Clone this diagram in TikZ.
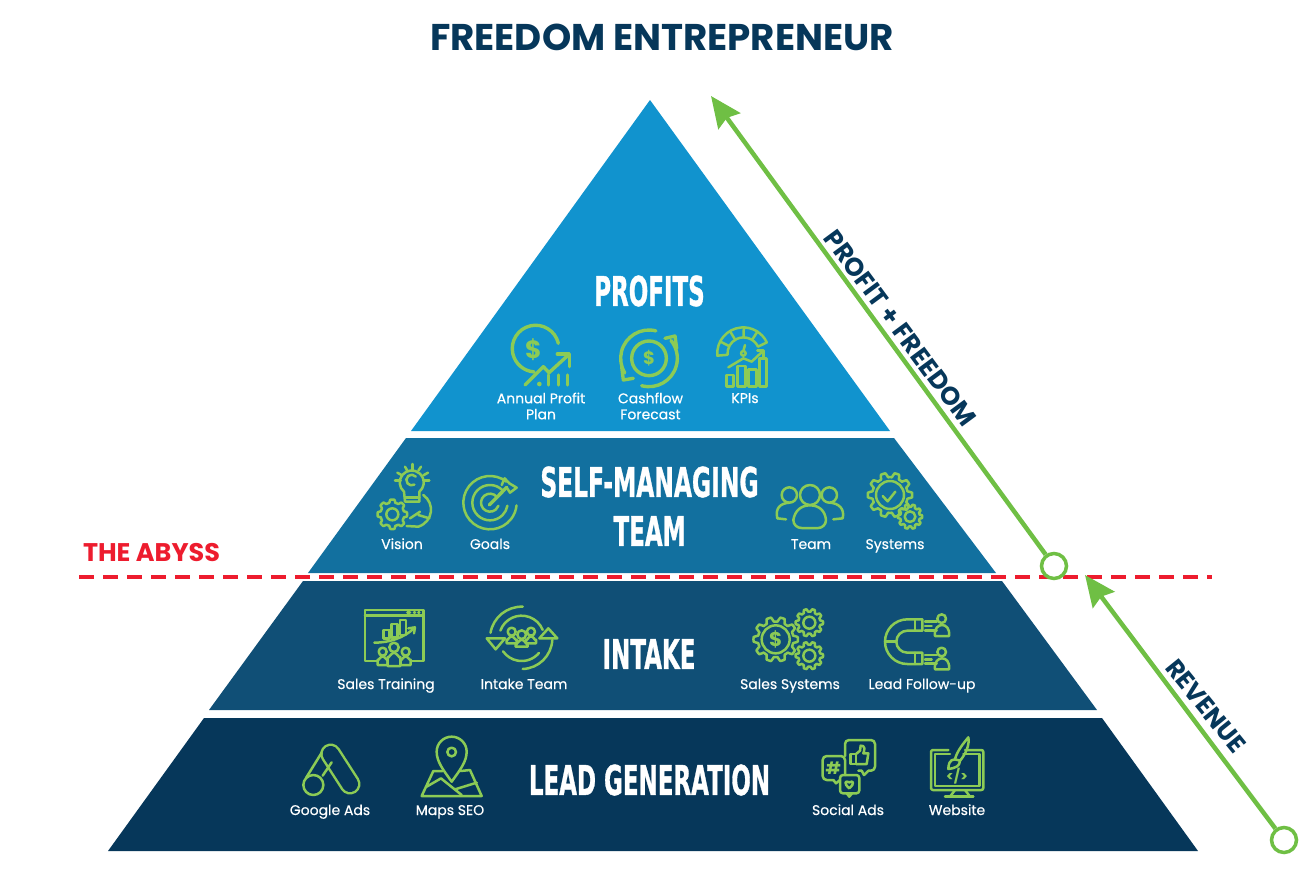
\documentclass[tikz,border=0pt]{standalone}
\usepackage{fontspec}
\usepackage{graphicx}
\setmainfont{Poppins}
\newfontfamily\tierfont[BoldFeatures={FakeBold=1.2}]{DejaVu Sans}
\newfontfamily\captionfont[FakeBold=0.4]{Poppins}
\usetikzlibrary{arrows.meta}

\definecolor{tierone}{HTML}{1193CE}
\definecolor{tiertwo}{HTML}{12709F}
\definecolor{tierthree}{HTML}{104F76}
\definecolor{tierfour}{HTML}{06375A}
\definecolor{icongreen}{HTML}{8CCB55}
\definecolor{arrowgreen}{HTML}{6FBF44}
\definecolor{abyssred}{HTML}{ED1C2E}

\tikzset{
    icon/.style={draw=icongreen, line width=2.5pt, line cap=round, line join=round},
    iconbold/.style={icon, line width=3.4pt},
    iconfill/.style={fill=icongreen, draw=none},
    icontext/.style={text=icongreen, inner sep=0pt, font=\bfseries\fontsize{#1}{#1}\selectfont},
    caption/.style={text=white, align=center, inner sep=0pt, font=\captionfont\fontsize{14}{16}\selectfont},
    tiertitle/.style={text=white, align=center, inner sep=0pt, font=\tierfont\bfseries\fontsize{41}{48}\selectfont},
    headline/.style={text=tierfour, inner sep=0pt, font=\bfseries\fontsize{#1}{#1}\selectfont},
    growth/.style={draw=arrowgreen, line width=4.5pt, -{Stealth[length=31pt,width=27pt,inset=4pt]}},
    ring/.style={draw=arrowgreen, fill=white, circle, line width=3.5pt, minimum size=25pt, inner sep=0pt},
}

% gear: centre x, centre y, radius, teeth
\newcommand{\gearshape}[4]{
    \draw[icon] plot[domain=0:360, samples=121] ({#1+(#3+0.11*#3*max(-1,min(1,2.5*cos(#4*\x))))*cos(\x)},{#2+(#3+0.11*#3*max(-1,min(1,2.5*cos(#4*\x))))*sin(\x)}) -- cycle;
}
% person: head x, head y, head radius, body half width, body bottom
\newcommand{\personshape}[5]{
    \draw[icon] (#1,#2) circle[radius=#3];
    \draw[icon] (#1-#4,#5) -- (#1-#4,#2+#3+#4*0.8) to[out=-90,in=180] (#1,#2+#3+2) to[out=0,in=-90] (#1+#4,#2+#3+#4*0.8) -- (#1+#4,#5) -- cycle;
}
% open ring: centre x, centre y, radius, start angle, end angle
\newcommand{\ringarc}[6][icon]{
    \draw[#1] ({#2+#4*cos(#5)},{#3+#4*sin(#5)}) arc[start angle=#5, end angle=#6, radius=#4];
}

\begin{document}
\begin{tikzpicture}[x=1pt, y=-1pt]
    \useasboundingbox (0,0) rectangle (1305,894);

    % pyramid
    \fill[tierone] (650,100) -- (890,431) -- (411,431) -- cycle;
    \fill[tiertwo] (406,438) -- (894,438) -- (996,573) -- (308,573) -- cycle;
    \fill[tierthree] (303,581) -- (1002,581) -- (1097,710) -- (209,710) -- cycle;
    \fill[tierfour] (204,718) -- (1102,718) -- (1198,851) -- (108,851) -- cycle;

    % titles
    \node[headline=37.2] (title) at (662,37.5) {FREEDOM ENTREPRENEUR};
    \node[tiertitle] (profits) at (649.5,291) {\scalebox{0.56}[1]{PROFITS}};
    \node[tiertitle] (selfmanaging) at (649.5,482) {\scalebox{0.57}[1]{SELF-MANAGING}};
    \node[tiertitle] (teamtitle) at (649.5,531) {\scalebox{0.56}[1]{TEAM}};
    \node[tiertitle] (intake) at (649,654) {\scalebox{0.56}[1]{INTAKE}};
    \node[tiertitle] (leadgen) at (649.5,780) {\scalebox{0.56}[1]{LEAD GENERATION}};

    % captions
    \node[caption] (annual) at (541,406) {Annual Profit\\Plan};
    \node[caption] (cashflow) at (650.5,406) {Cashflow\\Forecast};
    \node[caption, anchor=base] (kpis) at (745,403) {KPIs};
    \node[caption, anchor=base] (vision) at (402,549) {Vision};
    \node[caption, anchor=base] (goals) at (490,549) {Goals};
    \node[caption, anchor=base] (team) at (811,549) {Team};
    \node[caption, anchor=base] (systems) at (895,549) {Systems};
    \node[caption, anchor=base] (salestraining) at (386,689) {Sales Training};
    \node[caption, anchor=base] (intaketeam) at (524,689) {Intake Team};
    \node[caption, anchor=base] (salessystems) at (790,689) {Sales Systems};
    \node[caption, anchor=base] (followup) at (922,689) {Lead Follow-up};
    \node[caption, anchor=base] (googleads) at (330,815) {Google Ads};
    \node[caption, anchor=base] (mapsseo) at (450,815) {Maps SEO};
    \node[caption, anchor=base] (socialads) at (848,815) {Social Ads};
    \node[caption, anchor=base] (website) at (957,815) {Website};

    % abyss line and growth arrows
    \node[text=abyssred, inner sep=0pt, font=\bfseries\fontsize{25.5}{26}\selectfont] (abyss) at (151.5,553) {THE ABYSS};
    \draw[abyssred, line width=4pt, dash pattern=on 15pt off 9pt] (79,577) -- (1212,577);

    \coordinate (profittip) at (711,96);
    \coordinate (revenuetip) at (1085,575);
    \node[ring] (profitstart) at (1054,566) {};
    \node[ring] (revenuestart) at (1284,840) {};
    \draw[growth] (profitstart) -- (profittip);
    \draw[growth] (revenuestart) -- (revenuetip);
    \node[headline=25.5, rotate=-53.5] (profitlabel) at (900,328) {PROFIT + FREEDOM};
    \node[headline=25, rotate=-51] (revenuelabel) at (1206,706) {REVENUE};

    % annual profit, cashflow, kpis
    \begin{scope}[shift={(480,310)}, scale=1/3]
        \draw[iconbold] (235,100) arc[start angle=-13, end angle=-266, radius=70];
        \node[icontext=25] (dollarannual) at (160,118) {\$};
        \draw[iconbold] (135,225) -- (190,170) -- (207,188) -- (265,135);
        \draw[iconbold] (232,132) -- (268,132) -- (268,170);
        \fill[iconfill] (178,222) circle[radius=7];
        \foreach \x in {205,235,262}
            \draw[iconbold] (\x,195) -- (\x,225);

        \draw[iconbold] (507,145) circle[radius=52];
        \node[icontext=18] (dollarcash) at (507,145) {\$};
        \ringarc[iconbold]{507}{145}{85}{-76}{-211}
        \draw[iconbold] (425,170) -- (430,210) -- (460,205);
        \ringarc[iconbold]{507}{145}{85}{105}{-39}
        \draw[iconbold] (555,85) -- (585,78) -- (590,115);

        \draw[icon] (712,137) arc[start angle=175, end angle=335, radius=78] -- (834,110) arc[start angle=335, end angle=175, radius=48] -- cycle;
        \foreach \a in {207,239,271,303}
            \draw[icon] ({790+48*cos(\a)},{130+48*sin(\a)}) -- ({790+78*cos(\a)},{130+78*sin(\a)});
        \draw[icon] (790,130) circle[radius=7];
        \draw[icon] (790,123) -- (795,105);
        \draw[icon] (745,172) -- (790,145) -- (815,155) -- (850,122);
        \draw[icon] (832,122) -- (850,122) -- (850,140);
        \draw[icon] (740,195) rectangle (760,230);
        \draw[icon] (772,168) rectangle (796,230);
        \draw[icon] (806,178) rectangle (830,230);
        \draw[icon] (838,146) rectangle (860,230);
    \end{scope}

    % vision, goals
    \begin{scope}[shift={(360,450)}, scale=1/3]
        \draw[icon] (132,125) arc[start angle=130, end angle=410, radius=36] -- (178,155) -- (135,155) -- cycle;
        \draw[icon] (135,142) -- (178,142);
        \ringarc{155}{90}{16}{-40}{-300}
        \draw[icon] (157,42) -- (157,60);
        \draw[icon] (135,50) -- (142,62);
        \draw[icon] (183,50) -- (175,62);
        \draw[icon] (112,68) -- (126,76);
        \draw[icon] (204,68) -- (190,76);
        \draw[icon] (105,92) -- (122,92);
        \draw[icon] (208,92) -- (192,92);
        \draw[icon] (190,135) .. controls (225,160) and (220,215) .. (175,230) -- (140,228);
        \draw[icon] (150,205) -- (180,185);
        \draw[icon] (175,195) -- (208,205);
        \gearshape{97}{193}{40}{8}
        \draw[icon] (97,193) circle[radius=18];

        \ringarc{390}{158}{80}{-52}{-354}
        \ringarc{390}{158}{53}{-45}{-350}
        \ringarc{390}{158}{27}{-40}{-340}
        \draw[iconbold] (388,165) -- (440,112);
        \draw[icon] (425,105) -- (434,85) -- (448,100) -- (470,113) -- (450,128) -- (440,112);
    \end{scope}

    % team, systems
    \begin{scope}[shift={(760,460)}, scale=1/3]
        \draw[icon] (150,105) circle[radius=30];
        \draw[icon] (88,105) circle[radius=23];
        \draw[icon] (208,105) circle[radius=23];
        \draw[icon] (100,180) .. controls (105,150) and (125,136) .. (150,136) .. controls (175,136) and (195,150) .. (198,180) .. controls (198,195) and (185,204) .. (175,204) -- (125,204) .. controls (112,204) and (100,195) .. (100,180) -- cycle;
        \draw[icon] (52,175) .. controls (45,145) and (60,130) .. (88,128);
        \draw[icon] (210,128) .. controls (235,130) and (255,145) .. (248,175) -- (220,178);
        \draw[icon] (52,175) -- (78,178);

        \gearshape{390}{105}{60}{10}
        \draw[icon] (390,105) circle[radius=42];
        \draw[icon] (368,108) -- (383,124) -- (406,95);
        \gearshape{450}{170}{33}{10}
        \draw[icon] (450,170) circle[radius=16];
    \end{scope}

    % sales training, intake team
    \begin{scope}[shift={(330,600)}, scale=1/3]
        \draw[icon] (140,183) -- (105,183) -- (105,30) -- (280,30) -- (280,183) -- (245,183);
        \draw[icon] (105,47) -- (280,47);
        \draw[icon] (232,38) -- (240,38);
        \draw[icon] (252,38) -- (255,38);
        \draw[icon] (265,38) -- (268,38);
        \draw[icon] (160,90) rectangle (178,115);
        \draw[icon] (185,72) rectangle (203,112);
        \draw[icon] (210,60) rectangle (228,105);
        \draw[icon] (133,128) .. controls (175,128) and (220,115) .. (252,85);
        \draw[icon] (235,85) -- (255,82) -- (252,100);
        \personshape{158}{155}{12}{15}{195}
        \personshape{227}{155}{12}{15}{195}
        \personshape{192}{142}{14}{19}{198}

        \ringarc{575}{115}{95}{-88}{-170}
        \draw[icon] (470,115) -- (525,115) -- (497,148) -- cycle;
        \ringarc{575}{115}{68}{-160}{-22}
        \draw[icon] (628,115) -- (682,115) -- (655,85) -- cycle;
        \ringarc{575}{115}{92}{3}{88}
        \ringarc{575}{115}{68}{40}{145}
        \personshape{545}{95}{12}{15}{130}
        \personshape{603}{95}{12}{15}{130}
        \personshape{575}{104}{13}{18}{140}
    \end{scope}

    % sales systems, lead follow-up
    \begin{scope}[shift={(730,600)}, scale=1/3]
        \gearshape{137}{118}{60}{10}
        \draw[icon] (137,118) circle[radius=42];
        \node[icontext=20] (dollarsales) at (137,118) {\$};
        \gearshape{238}{68}{37}{10}
        \draw[icon] (238,68) circle[radius=18];
        \gearshape{238}{167}{37}{10}
        \draw[icon] (238,167) circle[radius=18];

        \draw[icon] (577,58) -- (532,58) arc[start angle=-90, end angle=-270, radius=67] -- (577,192) -- (577,158) -- (532,158) arc[start angle=90, end angle=270, radius=33] -- (577,92) -- cycle;
        \draw[icon] (555,58) -- (555,92);
        \draw[icon] (555,158) -- (555,192);
        \draw[icon] (465,125) -- (499,125);
        \foreach \y in {0,100}
        {
            \draw[icon] (585,{65+\y}) -- (620,{65+\y});
            \draw[icon] (585,{78+\y}) -- (605,{78+\y});
            \draw[icon] (585,{91+\y}) -- (620,{91+\y});
            \draw[icon] (635,{56+\y}) circle[radius=13];
            \draw[icon] (615,{108+\y}) .. controls (612,{85+\y}) and (625,{75+\y}) .. (636,{75+\y}) .. controls (648,{75+\y}) and (660,{85+\y}) .. (657,{108+\y}) -- cycle;
        }
    \end{scope}

    % google ads, maps seo
    \begin{scope}[shift={(280,730)}, scale=1/3]
        \draw[icongreen, line width=21pt, line cap=round] (152,72) -- (210,162);
        \draw[tierfour, line width=16pt, line cap=round] (152,72) -- (210,162);
        \draw[icon] (100,165) circle[radius=30];
        \draw[icon] (78,144) -- (125,68);
        \draw[icon] (128,137) -- (155,97);

        \draw[icon] (515,155) .. controls (490,120) and (470,95) .. (470,65) arc[start angle=180, end angle=360, radius=45] .. controls (560,95) and (540,120) .. (515,155) -- cycle;
        \draw[icon] (515,66) circle[radius=13];
        \draw[icon] (488,123) -- (460,123) -- (425,198) -- (605,198) -- (570,120) -- (542,123);
        \draw[icon] (440,170) -- (483,145) -- (545,195);
        \draw[icon] (525,178) -- (590,158);
    \end{scope}

    % social ads, website
    \begin{scope}[shift={(800,730)}, scale=1/3]
        \draw[icon, rounded corners=4pt] (135,78) -- (135,30) -- (225,30) -- (225,122) -- (205,122);
        \draw[icon] (205,122) -- (192,135) -- (185,122) -- (175,122);
        \draw[icon] (152,72) rectangle (168,102);
        \draw[icon] (168,72) -- (180,62) -- (182,47) .. controls (195,45) and (195,60) .. (190,70) -- (205,70) -- (200,102) -- (168,102);
        \draw[icon, rounded corners=4pt] (100,150) -- (68,150) -- (68,78) -- (135,78) -- (135,135);
        \draw[icon] (100,150) -- (108,160) -- (120,150);
        \node[icontext=17] (hashtag) at (100,115) {\#};
        \draw[icon, rounded corners=3pt] (120,135) rectangle (178,190);
        \draw[icon] (140,190) -- (148,200) -- (156,190);
        \draw[icon] (148,175) .. controls (130,160) and (135,150) .. (148,157) .. controls (160,150) and (165,160) .. (148,175) -- cycle;

        \draw[icon, rounded corners=2pt] (445,60) -- (393,60) -- (393,180) -- (550,180) -- (550,60) -- (495,60);
        \draw[icon] (450,72) -- (405,72) -- (405,168) -- (538,168) -- (538,72) -- (490,72);
        \draw[icon] (465,180) -- (450,200);
        \draw[icon] (495,180) -- (510,200);
        \draw[icon] (435,200) -- (520,200);
        \draw[icon] (505,22) .. controls (490,40) and (470,65) .. (465,88) -- (480,92) .. controls (495,75) and (510,45) .. (505,22) -- cycle;
        \draw[icon] (465,88) .. controls (448,88) and (445,105) .. (445,117) .. controls (465,115) and (480,108) .. (480,92);
        \node[icontext=14] (codemark) at (471,137) {</>};
    \end{scope}
\end{tikzpicture}
\end{document}
